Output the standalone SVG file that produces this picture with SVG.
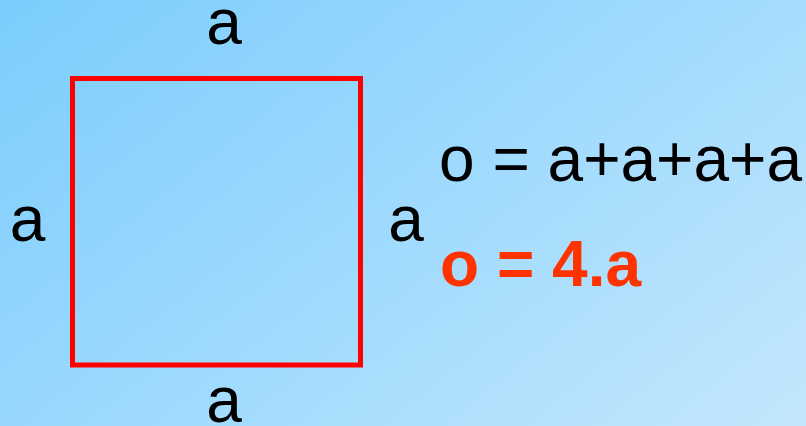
<svg xmlns="http://www.w3.org/2000/svg" width="806" height="426" viewBox="0 0 806 426">
  <defs>
    <linearGradient id="bg" gradientUnits="userSpaceOnUse" x1="0" y1="0" x2="517" y2="654">
      <stop offset="0" stop-color="#7bcdfd"/>
      <stop offset="1" stop-color="#c3e7fd"/>
    </linearGradient>
  </defs>
  <style>
    .lbl { font-family: "Liberation Sans", Arial, sans-serif; font-size: 64px; fill: #000000; }
    .mid { text-anchor: middle; }
    .res { font-family: "Liberation Sans", Arial, sans-serif; font-size: 64px; font-weight: bold; fill: #ff3300; }
    .sq { fill: none; stroke: #ff0000; stroke-width: 5; stroke-linejoin: miter; }
  </style>
  <rect x="0" y="0" width="806" height="426" fill="url(#bg)"/>
  <g id="square">
    <rect class="sq" x="72.5" y="78.5" width="288" height="286.5"/>
  </g>
  <g id="labels">
    <text class="lbl mid" x="224" y="44">a</text>
    <text class="lbl mid" x="27.5" y="241">a</text>
    <text class="lbl mid" x="406" y="241">a</text>
    <text class="lbl mid" x="224" y="422">a</text>
  </g>
  <g id="formula">
    <text class="lbl" x="439" y="181">o = a+a+a+a</text>
    <text class="res" x="440" y="286">o = 4.a</text>
  </g>
</svg>
